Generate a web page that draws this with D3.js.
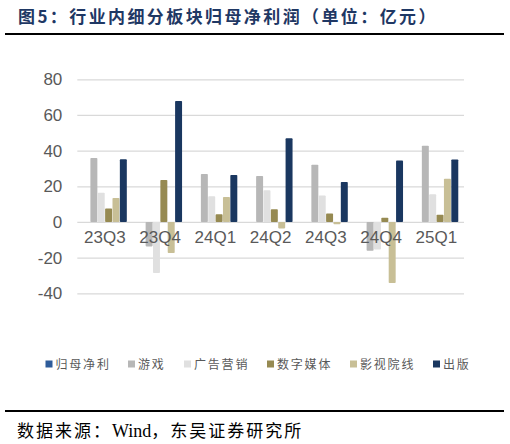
<!DOCTYPE html>
<html>
<head>
<meta charset="utf-8">
<script src="https://cdn.jsdelivr.net/npm/d3@7"></script>
<style>
  body { margin: 0; background: #fff; }
  svg { display: block; }
</style>
</head>
<body>
<div id="chart"></div>
<script>
// quarters on the x axis
var categories = ['23Q3', '23Q4', '24Q1', '24Q2', '24Q3', '24Q4', '25Q1'];
var seriesNames = ['归母净利', '游戏', '广告营销', '数字媒体', '影视院线', '出版'];
// 归母净利 has no bars in the source, it only holds a slot
var netProfit = [null, null, null, null, null, null, null];
var gameVals = [35.9, -13.7, 26.9, 25.8, 32.1, -16.1, 42.8];
var adVals = [16.4, -28.6, 14.4, 17.8, 14.8, -15.5, 15.5];
var digitalVals = [7.5, 23.6, 4.3, 7.1, 4.7, 2.4, 4.1];
var filmVals = [13.5, -17.4, 14.0, -3.6, -1.3, -34.2, 24.3];
var pubVals = [35.1, 67.9, 26.4, 46.9, 22.4, 34.4, 35.0];
var yTicks = [-40, -20, 0, 20, 40, 60, 80];

var seriesVals = [netProfit, gameVals, adVals, digitalVals, filmVals, pubVals];
var colors = ['#2E5C9A', '#B7B7B7', '#E0E0E0', '#968A52', '#C8BF96', '#1A3760'];

var width = 510, height = 444;
var svg = d3.select('#chart').append('svg')
  .attr('width', width)
  .attr('height', height);

// title + rule
svg.append('text')
  .attr('x', 18)
  .attr('y', 23)
  .attr('fill', '#1F3864')
  .style('font-family', '"Noto Sans CJK SC", sans-serif')
  .style('font-weight', 'bold')
  .style('font-size', '17px')
  .style('letter-spacing', '2.4px')
  .text('图5：行业内细分板块归母净利润（单位：亿元）');

svg.append('line')
  .attr('x1', 5).attr('x2', 504)
  .attr('y1', 34).attr('y2', 34)
  .attr('stroke', '#000').attr('stroke-width', 2);

var x0 = d3.scaleBand()
  .domain(categories)
  .range([77.3, 464])
  .paddingInner(0.2)
  .paddingOuter(0.1);

var x1 = d3.scaleBand()
  .domain(seriesNames)
  .range([0, x0.bandwidth()]);

var y = d3.scaleLinear()
  .domain([-40, 80])
  .range([293.3, 79.3]);

// gridlines
var yAxis = d3.axisLeft(y)
  .tickValues(yTicks)
  .tickFormat(function(d) { return String(d); })
  .tickSize(-(464 - 77.3))
  .tickPadding(15);

var gy = svg.append('g')
  .attr('transform', 'translate(77.3,0)')
  .call(yAxis);
gy.select('.domain').remove();
gy.selectAll('.tick line')
  .attr('stroke', '#D9D9D9')
  .attr('stroke-width', 1.3);
gy.selectAll('.tick text')
  .attr('fill', '#595959')
  .style('font-family', '"Liberation Sans", Arial, sans-serif')
  .style('font-size', '17px');

// bars
var rows = [];
categories.forEach(function(c, i) {
  seriesNames.forEach(function(s, j) {
    var v = seriesVals[j][i];
    if (v !== null) rows.push({ cat: c, series: s, idx: j, value: v });
  });
});

svg.append('g').selectAll('rect')
  .data(rows)
  .enter()
  .append('rect')
  .attr('x', function(d) { return x0(d.cat) + x1(d.series) + 0.2; })
  .attr('width', x1.bandwidth() - 0.4)
  .attr('y', function(d) { return y(Math.max(0, d.value)); })
  .attr('height', function(d) { return Math.abs(y(d.value) - y(0)); })
  .attr('rx', 0.8)
  .attr('fill', function(d) { return colors[d.idx]; });

// category labels sit just under the zero line
var xAxis = d3.axisBottom(x0).tickSize(0).tickPadding(9);
var gx = svg.append('g')
  .attr('transform', 'translate(0,' + y(0) + ')')
  .call(xAxis);
gx.select('.domain').remove();
gx.selectAll('.tick text')
  .attr('fill', '#595959')
  .style('font-family', '"Liberation Sans", Arial, sans-serif')
  .style('font-size', '17px');

// legend
var legendX = [45.5, 128, 184, 267, 350, 433];
var legend = svg.append('g').selectAll('g')
  .data(seriesNames)
  .enter()
  .append('g')
  .attr('transform', function(d, i) { return 'translate(' + legendX[i] + ',364)'; });

legend.append('rect')
  .attr('x', 0).attr('y', -3.5)
  .attr('width', 7).attr('height', 7)
  .attr('fill', function(d, i) { return colors[i]; });

legend.append('text')
  .attr('x', 10)
  .attr('y', 4.5)
  .attr('fill', '#595959')
  .style('font-family', '"Noto Sans CJK SC", sans-serif')
  .style('font-size', '12px')
  .style('letter-spacing', '1.8px')
  .text(function(d) { return d; });

// footer
svg.append('line')
  .attr('x1', 5).attr('x2', 504)
  .attr('y1', 411).attr('y2', 411)
  .attr('stroke', '#000').attr('stroke-width', 2);

var src = svg.append('text')
  .attr('x', 17)
  .attr('y', 437)
  .attr('fill', '#000')
  .style('font-family', '"Liberation Serif", "Noto Sans CJK SC", serif')
  .style('font-size', '17px');
src.append('tspan').style('letter-spacing', '2px').text('数据来源：');
src.append('tspan').style('font-size', '18px').text('Wind');
src.append('tspan').style('letter-spacing', '2px').text('，东吴证券研究所');
</script>
</body>
</html>
